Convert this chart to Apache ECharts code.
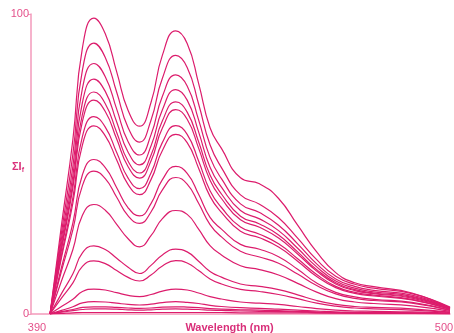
<!DOCTYPE html>
<html>
<head>
<meta charset="utf-8">
<script src="https://cdn.jsdelivr.net/npm/echarts@6/dist/echarts.min.js"></script>
<style>
  html, body { margin: 0; padding: 0; background: #fff; }
  #chart { width: 454px; height: 333px; }
</style>
</head>
<body>
<div id="chart"></div>
<script>
// wavelength grid (nm)
const wavelengths = [395, 398, 401, 403.5, 406.5, 409.5, 412.5, 415.5, 418.5, 421.5, 424.5, 428, 431, 434, 437, 440, 445, 450, 455, 460, 465, 470, 475, 480, 490, 500];

// summed fluorescence intensity, one array per spectrum (top to bottom)
const c1  = [0, 29.6, 58.2, 88.7, 98.6, 93.4, 80.7, 67.8, 62.6, 70.5, 86.3, 94.4, 90.2, 76.9, 62.1, 55.2, 45.4, 43.4, 38.5, 29.6, 20.7, 13.8, 10.4, 9.1, 7.0, 2.0];
const c2  = [0, 27.1, 53.3, 81.3, 90.3, 85.5, 73.9, 62.1, 57.3, 64.6, 78.6, 86.2, 82.2, 70.0, 56.4, 48.8, 39.7, 36.6, 32.1, 25.3, 18.1, 12.6, 9.9, 8.6, 6.8, 2.3];
const c3  = [0, 25.1, 49.3, 75.2, 83.5, 79.1, 68.3, 57.4, 53.0, 59.7, 72.6, 79.7, 76.0, 64.7, 52.2, 45.1, 36.7, 33.8, 29.6, 23.4, 16.7, 11.7, 9.2, 7.9, 6.3, 2.1];
const c4  = [0, 23.5, 46.2, 70.5, 78.3, 74.2, 64.0, 53.9, 49.7, 56.0, 68.1, 74.8, 71.3, 60.7, 48.9, 42.3, 34.5, 31.7, 27.8, 21.9, 15.7, 11.0, 8.6, 7.4, 5.9, 2.0];
const c5  = [0, 22.2, 43.7, 66.6, 74.0, 70.1, 60.5, 50.9, 47.0, 52.9, 64.4, 70.7, 67.3, 57.4, 46.3, 40.0, 32.6, 30.0, 26.3, 20.7, 14.8, 10.4, 8.1, 7.0, 5.6, 1.9];
const c6  = [0, 21.4, 42.1, 64.2, 71.3, 67.5, 58.3, 49.1, 45.3, 51.0, 62.0, 68.1, 64.9, 55.3, 44.6, 38.5, 31.4, 28.9, 25.3, 20.0, 14.3, 10.0, 7.8, 6.8, 5.3, 1.8];
const c7  = [0, 19.7, 38.8, 59.2, 65.8, 62.3, 53.8, 45.3, 41.8, 47.0, 57.2, 62.8, 59.9, 51.0, 41.1, 35.5, 29.0, 26.6, 23.4, 18.4, 13.2, 9.2, 7.2, 6.3, 4.9, 1.6];
const c8  = [0, 18.8, 37.0, 56.4, 62.7, 59.4, 51.3, 43.1, 39.8, 44.8, 54.5, 59.9, 57.1, 48.6, 39.2, 33.9, 27.6, 25.4, 22.3, 17.6, 12.5, 8.8, 6.9, 6.0, 4.7, 1.6];
const c9  = [0, 15.5, 30.4, 46.4, 51.5, 48.8, 42.1, 35.4, 32.7, 36.8, 44.8, 49.2, 46.9, 39.9, 32.2, 28.3, 23.2, 21.6, 19.1, 14.9, 10.3, 7.2, 5.7, 4.9, 3.9, 1.3];
const c10 = [0, 14.3, 28.1, 42.8, 47.6, 45.1, 38.9, 32.7, 30.2, 34.0, 41.4, 45.5, 43.3, 36.9, 29.8, 25.7, 20.9, 19.0, 16.9, 13.3, 9.5, 6.7, 5.2, 4.5, 3.6, 1.2];
const c11 = [0, 11.0, 21.5, 32.9, 36.5, 34.6, 29.9, 25.1, 22.4, 26.1, 31.8, 34.5, 33.2, 28.3, 22.8, 19.7, 16.1, 14.8, 13.0, 10.2, 7.3, 5.1, 4.0, 3.5, 2.7, 0.9];
const c12 = [0, 6.8, 13.4, 20.4, 22.7, 21.5, 18.6, 15.6, 13.5, 16.2, 19.7, 21.6, 20.7, 17.6, 14.2, 12.3, 10.0, 9.2, 8.1, 6.4, 4.5, 3.2, 2.5, 2.2, 1.7, 0.6];
const c13 = [0, 5.3, 10.4, 15.9, 17.7, 16.8, 14.5, 12.2, 11.0, 13.0, 16.0, 17.8, 17.0, 14.5, 11.7, 10.0, 8.2, 7.5, 6.5, 5.1, 3.6, 2.6, 2.0, 1.7, 1.3, 0.5];
const c14 = [0, 2.5, 4.9, 7.5, 8.3, 8.0, 7.1, 6.2, 5.8, 6.5, 7.6, 8.3, 8.0, 7.0, 5.8, 5.0, 4.0, 3.6, 3.2, 2.5, 1.8, 1.3, 1.0, 0.9, 0.7, 0.3];
const c15 = [0, 1.2, 2.4, 3.7, 4.1, 4.0, 3.6, 3.2, 3.0, 3.3, 3.8, 4.1, 3.9, 3.5, 2.9, 2.5, 2.1, 1.9, 1.6, 1.3, 1.0, 0.7, 0.6, 0.5, 0.4, 0.2];
const c16 = [0, 0.8, 1.5, 2.2, 2.4, 2.4, 2.2, 2.0, 1.9, 2.0, 2.3, 2.4, 2.3, 2.1, 1.8, 1.6, 1.4, 1.3, 1.1, 0.9, 0.7, 0.5, 0.4, 0.4, 0.3, 0.1];
const c17 = [0, 0.6, 1.1, 1.5, 1.7, 1.7, 1.6, 1.4, 1.3, 1.4, 1.6, 1.7, 1.6, 1.5, 1.3, 1.2, 1.0, 0.9, 0.8, 0.7, 0.5, 0.4, 0.3, 0.3, 0.2, 0.1];
const c18 = [0, 0.2, 0.4, 0.5, 0.5, 0.5, 0.5, 0.5, 0.5, 0.5, 0.5, 0.5, 0.5, 0.5, 0.5, 0.5, 0.4, 0.4, 0.4, 0.4, 0.3, 0.3, 0.3, 0.2, 0.2, 0.1];

const spectra = [c1, c2, c3, c4, c5, c6, c7, c8, c9, c10, c11, c12, c13, c14, c15, c16, c17, c18];

const xTicks = [390, 500];
const yTicks = [0, 100];

const lineColor = '#dc1c6c';
const axisColor = '#f39abb';
const textColor = '#e4508a';

const chart = echarts.init(document.getElementById('chart'));
chart.setOption({
    animation: false,
    grid: { left: 31, right: 4, top: 14, bottom: 19, outerBoundsMode: 'none' },
    xAxis: {
        type: 'value',
        min: xTicks[0],
        max: xTicks[1],
        interval: xTicks[1] - xTicks[0],
        name: 'Wavelength (nm)',
        nameLocation: 'middle',
        nameGap: 8,
        nameMoveOverlap: false,
        nameTextStyle: {
            color: '#d9307a', fontSize: 11, fontWeight: 'bold',
            fontFamily: 'Liberation Sans', padding: [0, 22, 0, 0]
        },
        splitLine: { show: false },
        axisTick: { show: false },
        axisLine: { show: true, lineStyle: { color: axisColor, width: 1.5 } },
        axisLabel: {
            margin: 8,
            formatter: v => (v === xTicks[0] ? '{l|' + v + '}' : '{r|' + v + '}'),
            rich: {
                l: { color: textColor, fontSize: 11, fontFamily: 'Liberation Sans', padding: [0, 0, 0, 12] },
                r: { color: textColor, fontSize: 11, fontFamily: 'Liberation Sans', padding: [0, 12, 0, 0] }
            }
        }
    },
    yAxis: {
        type: 'value',
        min: yTicks[0],
        max: yTicks[1],
        interval: yTicks[1] - yTicks[0],
        name: '{a|ΣI}{b|f}',
        nameLocation: 'middle',
        nameRotate: 0,
        nameGap: 7,
        nameMoveOverlap: false,
        nameTextStyle: {
            align: 'right',
            padding: [6, 0, 0, 0],
            rich: {
                a: { color: '#d9307a', fontSize: 11, fontWeight: 'bold', fontFamily: 'Liberation Sans' },
                b: { color: '#d9307a', fontSize: 7, fontWeight: 'bold', fontFamily: 'Liberation Sans', padding: [6, 0, 0, 0] }
            }
        },
        splitLine: { show: false },
        axisTick: { show: true, length: 3, lineStyle: { color: axisColor } },
        axisLine: { show: true, lineStyle: { color: axisColor, width: 1.5 } },
        axisLabel: { color: textColor, fontSize: 11, fontFamily: 'Liberation Sans', margin: 2 }
    },
    series: spectra.map((vals, i) => ({
        name: 'c' + (i + 1),
        type: 'line',
        smooth: 0.5,
        showSymbol: false,
        data: wavelengths.map((w, j) => [w, vals[j]]),
        lineStyle: { color: lineColor, width: 1.2 },
        z: 3
    }))
});
</script>
</body>
</html>
